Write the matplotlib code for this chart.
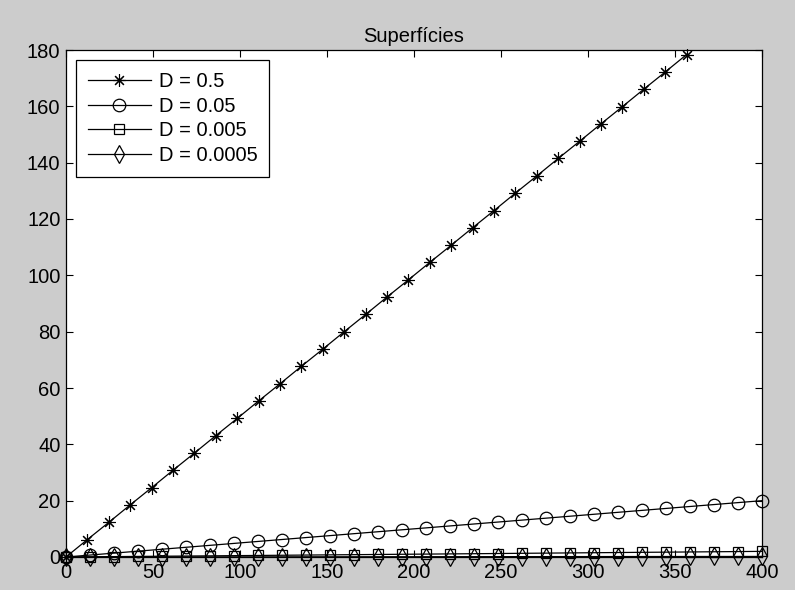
import matplotlib
matplotlib.use("Agg")
import matplotlib.pyplot as plt

# dados (superfície vs tempo)
x_star = [0, 12.3, 24.6, 36.9, 49.2, 61.5, 73.8, 86.1, 98.4, 110.7, 123.0, 135.3,
          147.6, 159.9, 172.2, 184.5, 196.8, 209.1, 221.4, 233.7, 246.0, 258.3,
          270.6, 282.9, 295.2, 307.5, 319.8, 332.1, 344.4, 356.7]
y_d05 = [0, 6.2, 12.3, 18.5, 24.6, 30.8, 36.9, 43.1, 49.2, 55.4, 61.5, 67.7,
         73.8, 80.0, 86.1, 92.3, 98.4, 104.6, 110.7, 116.9, 123.0, 129.2,
         135.3, 141.5, 147.6, 153.8, 159.9, 166.1, 172.2, 178.4]

x_pts = [0, 13.8, 27.6, 41.4, 55.2, 69.0, 82.8, 96.6, 110.3, 124.1, 137.9, 151.7,
         165.5, 179.3, 193.1, 206.9, 220.7, 234.5, 248.3, 262.1, 275.9, 289.7,
         303.4, 317.2, 331.0, 344.8, 358.6, 372.4, 386.2, 400.0]
y_d005 = [0, 0.69, 1.38, 2.07, 2.76, 3.45, 4.14, 4.83, 5.52, 6.21, 6.90, 7.59,
          8.28, 8.97, 9.66, 10.34, 11.03, 11.72, 12.41, 13.10, 13.79, 14.48,
          15.17, 15.86, 16.55, 17.24, 17.93, 18.62, 19.31, 20.0]
y_d0005 = [0, 0.07, 0.14, 0.21, 0.28, 0.34, 0.41, 0.48, 0.55, 0.62, 0.69, 0.76,
           0.83, 0.90, 0.97, 1.03, 1.10, 1.17, 1.24, 1.31, 1.38, 1.45,
           1.52, 1.59, 1.66, 1.72, 1.79, 1.86, 1.93, 2.0]
y_d00005 = [0, 0.007, 0.014, 0.021, 0.028, 0.034, 0.041, 0.048, 0.055, 0.062,
            0.069, 0.076, 0.083, 0.090, 0.097, 0.103, 0.110, 0.117, 0.124, 0.131,
            0.138, 0.145, 0.152, 0.159, 0.166, 0.172, 0.179, 0.186, 0.193, 0.2]

labels = ["D = 0.5", "D = 0.05", "D = 0.005", "D = 0.0005"]

plt.rcParams["font.family"] = ["Liberation Sans", "DejaVu Sans"]
fs = 14.5

fig = plt.figure(figsize=(7.95, 5.9), dpi=100, facecolor="#cccccc")
ax = fig.add_axes([66 / 795, 33 / 590, 696 / 795, 507 / 590])
ax.set_facecolor("white")

lw = 0.9
ax.plot(x_star, y_d05, color="black", lw=lw, marker=(8, 2, 0), markersize=9,
        markeredgewidth=0.8, clip_on=False, label=labels[0])
ax.plot(x_pts, y_d005, color="black", lw=lw, marker="o", markersize=9,
        markerfacecolor="none", markeredgewidth=0.9, clip_on=False, label=labels[1])
ax.plot(x_pts, y_d0005, color="black", lw=lw, marker="s", markersize=7.5,
        markerfacecolor="none", markeredgewidth=0.9, clip_on=False, label=labels[2])
ax.plot(x_pts, y_d00005, color="black", lw=lw, marker="d", markersize=9,
        markerfacecolor="none", markeredgewidth=0.9, clip_on=False, label=labels[3])

ax.set_xlim(0, 400)
ax.set_ylim(0, 180)
ax.set_xticks(range(0, 401, 50))
ax.set_yticks(range(0, 181, 20))
ax.tick_params(direction="in", length=5, width=0.8, top=True, right=True,
               labelsize=fs, pad=4)
for s in ax.spines.values():
    s.set_linewidth(0.9)

ax.set_title("Superfícies", fontsize=fs, pad=6)

leg = ax.legend(loc="upper left", numpoints=1, handlelength=3.1, fontsize=fs,
                fancybox=False, edgecolor="black", framealpha=1,
                borderaxespad=0.5, labelspacing=0.28, handletextpad=0.4,
                borderpad=0.6)
leg.get_frame().set_linewidth(0.9)

fig.savefig("out.png", dpi=100, facecolor=fig.get_facecolor())
